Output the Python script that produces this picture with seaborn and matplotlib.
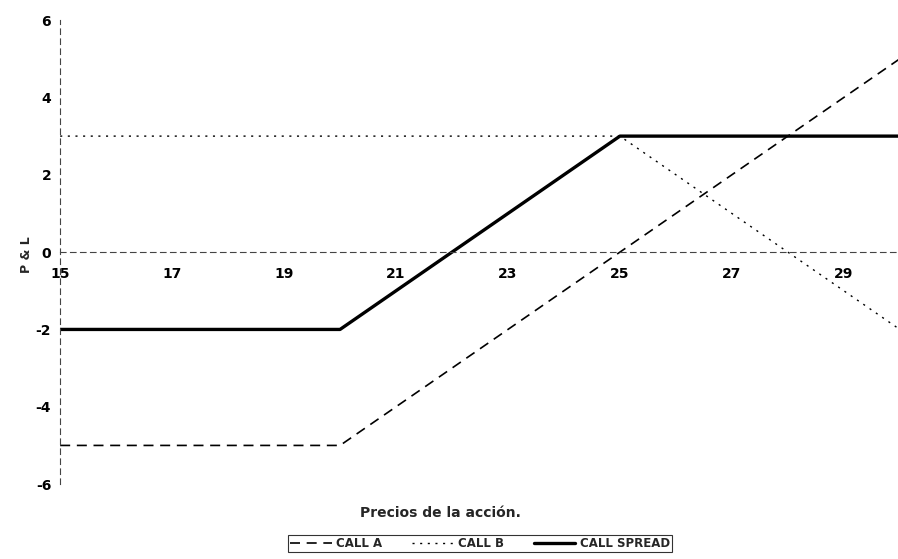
import seaborn as sns
import pandas as pd
import matplotlib.pyplot as plt

# DATA
precio = [15, 20, 25, 30]
call_a = [-5, -5, 0, 5]
call_b = [3, 3, 3, -2]
call_spread = [-2, -2, 3, 3]
x_ticks = [15, 17, 19, 21, 23, 25, 27, 29]
y_ticks = [-6, -4, -2, 0, 2, 4, 6]

df = pd.DataFrame({"precio": precio, "CALL A": call_a, "CALL B": call_b, "CALL SPREAD": call_spread})

sns.set_style("white")
plt.rcParams['font.family'] = ['DejaVu Sans']
plt.rcParams['axes.unicode_minus'] = False

fig = plt.figure(figsize=(8.98, 5.59), dpi=100)
ax = fig.add_axes([0.067, 0.134, 0.935, 0.83])

# PLOT
sns.lineplot(data=df, x="precio", y="CALL A", ax=ax, color="black", linewidth=1.2,
             linestyle=(0, (6, 4)), label="CALL A")
sns.lineplot(data=df, x="precio", y="CALL B", ax=ax, color="black", linewidth=1.0,
             linestyle=(0, (1.5, 4)), label="CALL B")
sns.lineplot(data=df, x="precio", y="CALL SPREAD", ax=ax, color="black", linewidth=2.4,
             label="CALL SPREAD")

# AXES
ax.set_xlim(15, 30)
ax.set_ylim(-6, 6)
ax.set_xticks(x_ticks)
ax.set_yticks(y_ticks)
ax.spines["left"].set_position(("data", 15))
ax.spines["bottom"].set_position(("data", 0))
ax.spines["top"].set_visible(False)
ax.spines["right"].set_visible(False)
for s in ["left", "bottom"]:
    ax.spines[s].set_linestyle((0, (5, 4)))
    ax.spines[s].set_linewidth(0.8)
    ax.spines[s].set_color("#444444")
ax.tick_params(axis="both", direction="inout", length=6, width=0.8, labelsize=10, colors="black")
ax.tick_params(axis="x", pad=8)
for t in ax.get_xticklabels() + ax.get_yticklabels():
    t.set_fontweight("semibold")

ax.set_xlabel("")
ax.set_ylabel("")
fig.text(0.03, 0.545, "P & L", rotation=90, ha="center", va="center", fontsize=9, fontweight="bold")
fig.text(0.49, 0.082, "Precios de la acción.", ha="center", va="center", fontsize=10, fontweight="bold")

# LEGEND
leg = ax.legend(loc="center", bbox_to_anchor=(0.5, -0.128), ncol=3, frameon=True,
                fancybox=False, handlelength=3.5, columnspacing=2.5,
                borderpad=0.2, handletextpad=0.4, prop={"size": 8.5, "weight": "semibold"})
leg.get_frame().set_edgecolor("black")
leg.get_frame().set_linewidth(0.8)

fig.savefig("out.png", dpi=100)
